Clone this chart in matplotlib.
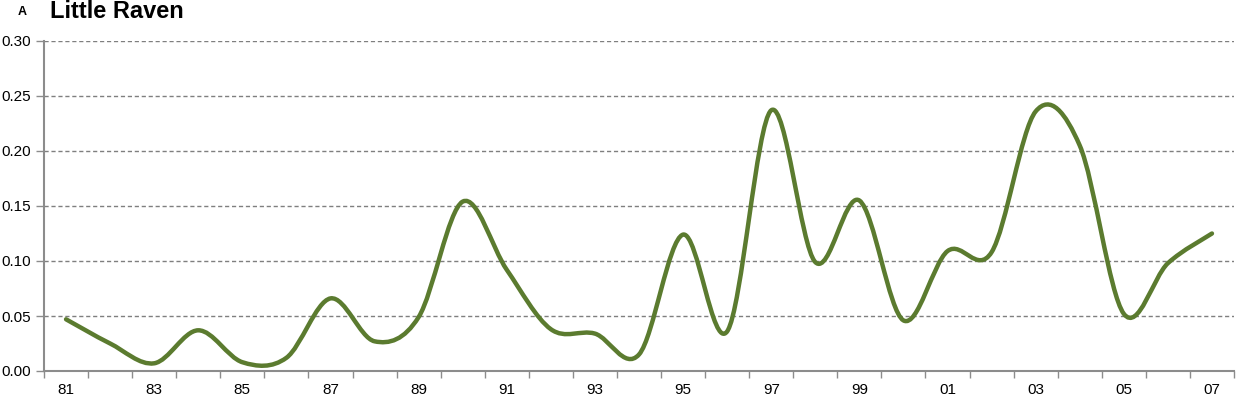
import numpy as np
import matplotlib
matplotlib.use("Agg")
from matplotlib import pyplot as plt
from matplotlib.path import Path
from matplotlib.patches import PathPatch

years = ["81", "82", "83", "84", "85", "86", "87", "88", "89", "90", "91", "92", "93", "94",
         "95", "96", "97", "98", "99", "00", "01", "02", "03", "04", "05", "06", "07"]
values = [0.047, 0.025, 0.007, 0.037, 0.008, 0.012, 0.066, 0.027, 0.049, 0.154, 0.092, 0.038,
          0.034, 0.015, 0.124, 0.036, 0.237, 0.099, 0.155, 0.046, 0.109, 0.108, 0.236, 0.205,
          0.052, 0.098, 0.125]
y_ticks = [0.00, 0.05, 0.10, 0.15, 0.20, 0.25, 0.30]

plt.rcParams["font.family"] = ["Liberation Sans", "DejaVu Sans"]

fig = plt.figure(figsize=(12.36, 3.97), dpi=100)
ax = fig.add_axes([44 / 1236, 26 / 397, 1190 / 1236, 330 / 397])

# Excel-style smoothed line: cubic Bezier through each point
x = np.arange(len(values), dtype=float)
y = np.array(values)
xp = np.concatenate([[x[0]], x, [x[-1]]])
yp = np.concatenate([[y[0]], y, [y[-1]]])
verts = [(x[0], y[0])]
codes = [Path.MOVETO]
for i in range(len(x) - 1):
    c1 = (x[i] + (xp[i + 2] - xp[i]) / 6, y[i] + (yp[i + 2] - yp[i]) / 6)
    c2 = (x[i + 1] - (xp[i + 3] - xp[i + 1]) / 6, y[i + 1] - (yp[i + 3] - yp[i + 1]) / 6)
    verts += [c1, c2, (x[i + 1], y[i + 1])]
    codes += [Path.CURVE4] * 3
line = PathPatch(Path(verts, codes), facecolor="none", edgecolor="#5b7b2f",
                 linewidth=3.2, capstyle="round", joinstyle="round", zorder=3)
ax.add_patch(line)

ax.set_xlim(-0.5, len(values) - 0.5)
ax.set_ylim(0, 0.30)

# tick marks at the category borders, labels at every other category
ax.set_xticks(np.arange(len(values) + 1) - 0.5)
ax.set_xticklabels([])
ax.set_xticks(x[::2], minor=True)
ax.set_xticklabels(years[::2], minor=True)
ax.tick_params(axis="x", which="major", length=5, width=1, color="#8c8c8c", direction="out")
ax.tick_params(axis="x", which="minor", length=0, pad=9, labelsize=11)

ax.set_yticks(y_ticks)
ax.set_yticklabels([f"{v:.2f}" for v in y_ticks])
ax.tick_params(axis="y", length=6, width=1, color="#8c8c8c", pad=3, labelsize=11)

ax.grid(axis="y", linestyle=(0, (3, 2)), color="#7f7f7f", linewidth=1)
ax.set_axisbelow(True)
for s in ["top", "right"]:
    ax.spines[s].set_visible(False)
for s in ["left", "bottom"]:
    ax.spines[s].set_color("#8c8c8c")
    ax.spines[s].set_linewidth(1.5)

fig.text(18 / 1236, 1 - 15 / 397, "A", fontsize=9, fontweight="bold")
fig.text(50 / 1236, 1 - 18 / 397, "Little Raven", fontsize=17, fontweight="bold")

fig.savefig("out.png", dpi=100)
